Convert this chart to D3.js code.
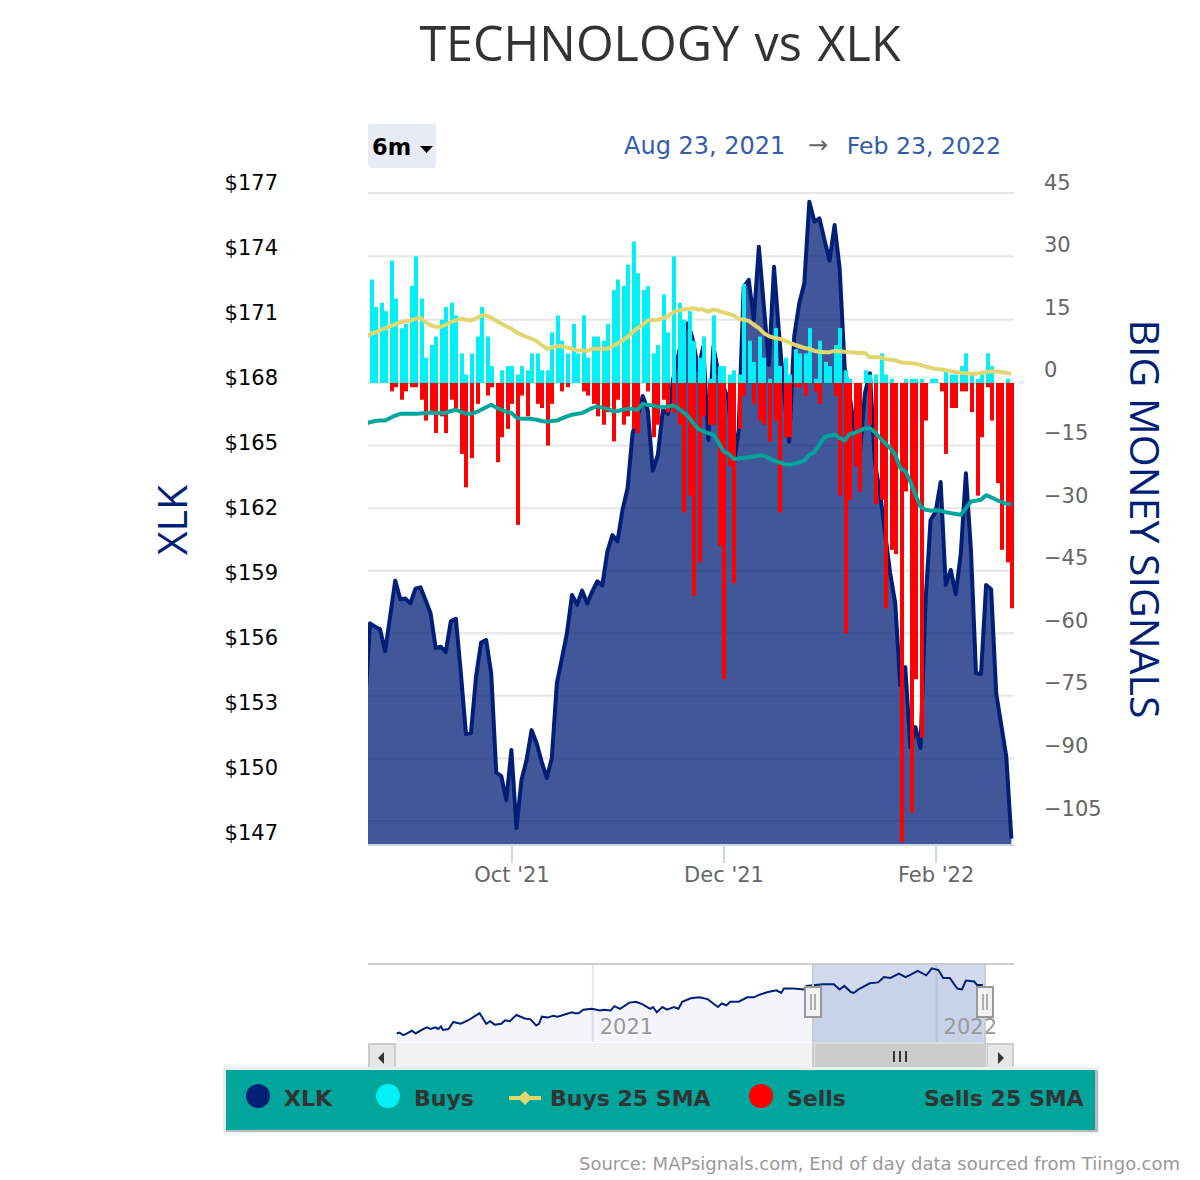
<!DOCTYPE html>
<html>
<head>
<meta charset="utf-8">
<title>TECHNOLOGY vs XLK</title>
<script src="https://cdn.jsdelivr.net/npm/d3@7"></script>
<style>
  body { margin: 0; background: #fff; }
  text { font-family: "DejaVu Sans", sans-serif; }
</style>
</head>
<body>
<div id="chart"></div>
<script>
// first value of the three line series is the day just before the window
const xlk = [153.23,
  157.14,156.98,156.86,155.85,157.48,159.11,158.25,158.28,158.06,158.74,
  158.80,158.22,157.6,156.0,156.06,155.81,157.23,157.35,154.83,152.03,
  152.09,154.68,156.25,156.37,154.83,150.25,150.09,148.98,151.29,147.69,
  149.91,150.83,152.21,151.6,150.75,150.0,150.91,154.37,155.52,156.68,
  158.45,158.0,158.65,158.06,158.6,159.08,158.89,160.45,161.21,160.92,
  162.37,163.37,165.91,166.68,167.63,166.99,164.19,164.91,166.99,166.8,
  168.37,169.45,170.52,170.99,170.14,168.83,169.91,165.6,169.91,168.68,
  168.06,167.45,164.37,166.06,172.68,172.99,171.14,174.52,171.75,169.06,
  173.6,170.5,167.75,165.52,170.37,171.91,172.83,176.6,175.68,175.83,
  174.83,173.88,175.52,173.52,168.91,167.6,166.06,164.98,167.76,168.68,
  164.52,163.14,161.31,159.46,158.08,154.29,155.12,151.43,152.35,151.39,
  158.08,161.91,162.28,163.66,158.91,159.6,158.49,160.38,164.06,160.52,
  154.83,154.8,158.91,158.71,153.91,152.45,150.98,147.2];

const buys = [24.5,18,19,17,29,20,13,14,23,30,20,6,9,11,15,18,19,16,7,2,7,11,18,11,4,0,3,4,4,2,
  4,3,7,7,3,3,12,16,10,7,14,7,16,6,11,11,10,14,22,24.5,23,28,33.5,26,22,23,7,9,21,12,
  30,19,15,17,10,6,11,1,16,4,4,2,3,2,23.5,10,5,11,6,1,13,4,6,2,8,7,7,13,1,10,
  5,4,9,13,3,1,0,0,3,2,2,7,2,1,0,0,1,1,1,1,0,1,1,0,3,2,2,4,7,2,
  1,2,7,4,0,0,1,0];

const sells = [0,0,0,0,2,1,4,2,1,1,4,9,7,12,8,12,4,6,17,25,18,5,0,3,1,19,13,11,5,34,
  3,8,0,5,6,15,5,0,2,1,0,0,2,3,5,8,10,7,14,4,10,8,11,12,0,2,13,10,4,7,
  7,10,31,27,51,43,8,10,10,39,71,20,48,11,3,0,5,9,10,14,9,31,13,13,1,1,3,0,2,5,
  0,0,3,27,60,28,20,26,0,10,29,28,54,40,41,110,26,103,71,85,9,0,0,2,17,6,6,2,2,7,
  27,13,1,9,24,40,43,54];

const buysSma = [10.8,
  11.5,12.0,12.5,13.0,13.4,13.9,14.4,14.6,14.8,15.2,15.4,14.4,13.7,13.3,13.3,13.8,
  14.4,14.9,15.2,15.0,14.8,15.3,16.0,16.0,15.5,14.7,14.1,13.4,12.9,12.0,11.4,10.9,
  10.5,9.9,9.0,8.1,8.5,8.7,8.7,8.4,8.1,7.7,7.7,7.6,8.1,8.1,8.1,8.1,8.7,9.3,
  10.1,10.9,12.0,13.0,13.8,14.8,14.9,15.0,15.3,15.8,16.7,17.2,17.4,17.5,17.7,17.4,
  17.4,16.9,17.4,17.1,16.7,16.4,16.0,15.2,15.0,14.7,13.8,13.0,11.8,11.1,10.7,10.5,
  10.1,9.6,9.1,8.7,8.3,8.1,7.6,7.4,7.3,7.3,7.6,7.5,7.4,7.3,7.2,7.1,7.1,6.1,
  6.1,6.1,5.7,5.5,5.4,4.9,4.8,4.7,4.6,4.3,3.9,3.6,3.3,3.2,3.0,2.8,2.6,2.4,
  2.3,2.2,2.2,2.4,2.6,2.8,2.7,2.6,2.4,2.2];

const sellsSma = [-9.8,
  -9.4,-9.1,-9.0,-9.0,-8.4,-7.8,-7.4,-7.4,-7.4,-7.4,-7.3,-7.2,-7.1,-7.2,-7.2,-7.2,
  -6.7,-6.4,-6.9,-7.4,-7.4,-7.0,-6.4,-5.8,-5.2,-5.9,-6.4,-6.9,-7.2,-8.3,-8.6,-8.6,
  -8.6,-8.8,-9.1,-9.3,-9.1,-9.0,-8.5,-8.0,-7.6,-7.4,-7.2,-6.6,-6.0,-5.6,-5.9,-6.2,
  -6.7,-6.7,-6.4,-6.2,-6.2,-6.4,-5.0,-5.3,-5.4,-5.7,-5.8,-5.6,-5.4,-6.0,-7.0,-8.0,
  -9.6,-11.0,-11.6,-12.0,-12.4,-14.2,-16.4,-17.0,-18.2,-18.1,-17.9,-17.8,-17.6,-17.4,
  -17.4,-18.0,-18.6,-19.0,-19.4,-19.6,-19.4,-19.0,-18.6,-17.2,-16.6,-14.8,-13.0,-12.6,
  -12.4,-13.2,-13.8,-12.2,-12.0,-11.4,-10.9,-10.9,-11.8,-13.2,-14.4,-15.6,-17.2,-20.4,
  -21.2,-23.6,-26.8,-29.6,-30.4,-30.6,-30.5,-30.6,-31.0,-31.2,-31.4,-31.6,-30.0,-28.4,
  -28.2,-28.0,-26.9,-27.4,-28.0,-28.5,-29.0,-29.0];

const priceTicks = [147,150,153,156,159,162,165,168,171,174,177];
const signalTicks = [-105,-90,-75,-60,-45,-30,-15,0,15,30,45];
const monthTicks = [28,70,112];
const monthLabels = ["Oct '21","Dec '21","Feb '22"];

// navigator: days counted from 1 Jan 2021, and the price on that day
const navDays = [-208,-205,-201,-197,-192,-188,-180,-176,-172,-167,-164,-161,-159,-153,-148,-140,-132,-120,-113,-109,
  -104,-97,-93,-88,-81,-72,-66,-60,-57,-54,-48,-42,-37,-28,-22,-19,-15,-10,-1,8,
  12,19,23,29,39,46,53,61,64,68,74,79,86,91,95,104,113,122,128,133,
  137,142,146,155,164,171,177,186,195,200,203,213,224,227,236,244,256,262,267,274,
  277,282,287,294,303,309,316,325,332,336,345,354,360,367,372,379,387,392,396,405,408,414];
const navPrices = [102,103,100,102,105,102,107,109,107,109,107,110,106,107,115,113,117,125,113,116,
  112,113,117,116,123,119,118,111,113,121,120,122,121,124,126,125,125,129,130,128,
  129,128,133,130,137,138,135,130,132,126,132,129,132,130,138,142,143,141,136,132,
  136,134,138,138,143,143,146,149,151,148,153,153,152,156,157,158,158,152,156,149,
  148,152,155,159,160,166,165,170,166,168,173,168,176,174,165,165,153,152,162,161,157,157];
const navYears = [0,365];
const navYearLabels = ["2021","2022"];

const legendItems = ["XLK","Buys","Buys 25 SMA","Sells","Sells 25 SMA"];

const width = 1200, height = 1180;
const plotLeft = 368, plotRight = 1014, plotTop = 193, plotBottom = 845;
const navy = "#011f77", cyan = "#00f0f8", red = "#ff0000", yellow = "#e2d670", teal = "#00a59b";

const svg = d3.select("#chart").append("svg").attr("width", width).attr("height", height);

svg.append("defs").append("clipPath").attr("id", "plot")
  .append("rect").attr("x", plotLeft).attr("y", plotTop - 10).attr("width", plotRight - plotLeft).attr("height", plotBottom - plotTop + 10);

const x = d3.scaleLinear().domain([0, 127]).range([370, 1011.35]);
const yPrice = d3.scaleLinear().domain([147, 177]).range([843, plotTop]);
// the grid in the picture is not quite even around zero, its labels are
const ySignal = d3.scaleLinear().domain([-105, 0, 45]).range([821, 383, plotTop]);
const ySignalLabel = d3.scaleLinear().domain([-105, 45]).range([819, plotTop]);

svg.append("text").attr("x", 660).attr("y", 61).attr("text-anchor", "middle")
  .style("font-family", "'Open Sans'").style("font-size", "48.5px").style("word-spacing", "3px")
  .attr("fill", "#333").text("TECHNOLOGY vs XLK");

// gridlines go under the translucent area
svg.append("g").selectAll("line").data(signalTicks).join("line")
  .attr("x1", plotLeft).attr("x2", plotRight)
  .attr("y1", d => ySignal(d)).attr("y2", d => ySignal(d))
  .attr("stroke", "#e6e6e6").attr("stroke-width", 2);

const plot = svg.append("g").attr("clip-path", "url(#plot)");

// line series carry the extra leading day, hence the i - 1
const area = d3.area().x((d, i) => x(i - 1)).y0(plotBottom).y1(d => yPrice(d));
const priceLine = d3.line().x((d, i) => x(i - 1)).y(d => yPrice(d));
const signalLine = d3.line().x((d, i) => x(i - 1)).y(d => ySignal(d));

plot.append("path").datum(xlk).attr("d", area).attr("fill", navy).attr("fill-opacity", 0.75);
plot.append("path").datum(xlk).attr("d", priceLine).attr("fill", "none")
  .attr("stroke", navy).attr("stroke-width", 4).attr("stroke-linejoin", "round");

const evenLeft = i => 2 * Math.floor(x(i) / 2);

plot.append("g").selectAll("rect").data(buys).join("rect")
  .attr("x", (d, i) => evenLeft(i)).attr("width", 4)
  .attr("y", d => ySignal(d)).attr("height", d => ySignal(0) - ySignal(d))
  .attr("fill", cyan);

plot.append("g").selectAll("rect").data(sells).join("rect")
  .attr("x", (d, i) => evenLeft(i)).attr("width", 4)
  .attr("y", ySignal(0)).attr("height", d => ySignal(-d) - ySignal(0))
  .attr("fill", red);

plot.append("path").datum(buysSma).attr("d", signalLine).attr("fill", "none")
  .attr("stroke", yellow).attr("stroke-width", 4).attr("stroke-linejoin", "round");
plot.append("path").datum(sellsSma).attr("d", signalLine).attr("fill", "none")
  .attr("stroke", teal).attr("stroke-width", 4).attr("stroke-linejoin", "round");

// axes
const axisLeft = svg.append("g").attr("transform", "translate(278,0)")
  .call(d3.axisLeft(yPrice).tickValues(priceTicks).tickSize(0).tickPadding(0).tickFormat(d => "$" + d));
axisLeft.select(".domain").remove();
axisLeft.selectAll("text").attr("dy", "-4px").style("font-size", "21px").attr("fill", "#000");

const axisRight = svg.append("g").attr("transform", "translate(1044,0)")
  .call(d3.axisRight(ySignalLabel).tickValues(signalTicks).tickSize(0).tickPadding(0).tickFormat(d3.format("d")));
axisRight.select(".domain").remove();
axisRight.selectAll("text").attr("dy", "-4px").style("font-size", "21px").attr("fill", "#666");

const axisBottom = svg.append("g").attr("transform", `translate(0,${plotBottom})`)
  .call(d3.axisBottom(x).tickValues(monthTicks).tickSize(18).tickPadding(4).tickFormat((d, i) => monthLabels[i]));
axisBottom.select(".domain").remove();
axisBottom.selectAll("line").attr("stroke", "#ccd6eb").attr("stroke-width", 2);
axisBottom.selectAll("text").style("font-size", "21px").attr("fill", "#666");
svg.append("line").attr("x1", plotLeft).attr("x2", plotRight).attr("y1", plotBottom).attr("y2", plotBottom)
  .attr("stroke", "#ccd6eb").attr("stroke-width", 2);

svg.append("text").attr("transform", "translate(187,520) rotate(-90)").attr("text-anchor", "middle")
  .style("font-family", "'Open Sans'").style("font-size", "41px").attr("fill", navy).text("XLK");
svg.append("text").attr("transform", "translate(1130,519) rotate(90)").attr("text-anchor", "middle")
  .style("font-family", "'Open Sans'").style("font-size", "41px").attr("fill", navy).text("BIG MONEY SIGNALS");

// range selector
svg.append("rect").attr("x", 368).attr("y", 124).attr("width", 68).attr("height", 44).attr("rx", 3).attr("fill", "#e6ebf5");
svg.append("text").attr("x", 372).attr("y", 155).style("font-size", "22.5px").style("font-weight", "bold").attr("fill", "#000").text("6m");
svg.append("path").attr("d", d3.line()([[420, 146], [433, 146], [426.5, 153]])).attr("fill", "#000");
svg.append("text").attr("x", 624).attr("y", 154).style("font-size", "24px").attr("fill", "#335cad").text("Aug 23, 2021");
svg.append("text").attr("x", 818).attr("y", 153).attr("text-anchor", "middle").style("font-size", "24px").attr("fill", "#666").text("→");
svg.append("text").attr("x", 1001).attr("y", 154).attr("text-anchor", "end").style("font-size", "23.6px").attr("fill", "#335cad").text("Feb 23, 2022");

// navigator
const navX = d3.scaleLinear().domain(navYears).range([592.7, 936.6]);
const navY = d3.scaleLinear().domain([100, 176]).range([1035.2, 968.3]);
const navTop = 964, navBottom = 1042;

svg.append("g").selectAll("line").data(navYears).join("line")
  .attr("x1", d => navX(d)).attr("x2", d => navX(d)).attr("y1", navTop).attr("y2", navBottom)
  .attr("stroke", "#e6e6e6").attr("stroke-width", 2);
svg.append("path").datum(navDays)
  .attr("d", d3.area().x(d => navX(d)).y0(navBottom).y1((d, i) => navY(navPrices[i])))
  .attr("fill", "#335cad").attr("fill-opacity", 0.06);
svg.append("rect").attr("x", 813).attr("y", navTop).attr("width", 172).attr("height", navBottom - navTop)
  .attr("fill", "#335cad").attr("fill-opacity", 0.22);
svg.append("g").selectAll("text").data(navYears).join("text")
  .attr("x", d => navX(d) + 7).attr("y", 1034)
  .style("font-size", "21px").attr("fill", "#999").text((d, i) => navYearLabels[i]);
svg.append("path").datum(navDays)
  .attr("d", d3.line().x(d => navX(d)).y((d, i) => navY(navPrices[i])))
  .attr("fill", "none").attr("stroke", navy).attr("stroke-width", 2);
svg.append("line").attr("x1", plotLeft).attr("x2", plotRight).attr("y1", navTop).attr("y2", navTop)
  .attr("stroke", "#ccc").attr("stroke-width", 2);

// scrollbar
svg.append("rect").attr("x", plotLeft).attr("y", 1043).attr("width", plotRight - plotLeft).attr("height", 27).attr("fill", "#f2f2f2");
[368, 986].forEach(bx => {
  svg.append("rect").attr("x", bx + 1).attr("y", 1044).attr("width", 26).attr("height", 26)
    .attr("fill", "#e6e6e6").attr("stroke", "#ccc").attr("stroke-width", 2);
});
svg.append("path").attr("d", d3.line()([[384, 1052], [384, 1064], [378, 1058]])).attr("fill", "#333");
svg.append("path").attr("d", d3.line()([[998, 1052], [998, 1064], [1004, 1058]])).attr("fill", "#333");
svg.append("rect").attr("x", 814).attr("y", 1043).attr("width", 172).attr("height", 27)
  .attr("fill", "#ccc").attr("stroke", "#ddd").attr("stroke-width", 2);
[894, 900, 906].forEach(lx => {
  svg.append("line").attr("x1", lx).attr("x2", lx).attr("y1", 1051).attr("y2", 1062).attr("stroke", "#333").attr("stroke-width", 2);
});
[813, 985].forEach(hx => {
  svg.append("line").attr("x1", hx).attr("x2", hx).attr("y1", navTop).attr("y2", 1070).attr("stroke", "#ccc").attr("stroke-width", 2);
  svg.append("rect").attr("x", hx - 8).attr("y", 987).attr("width", 16).attr("height", 30)
    .attr("fill", "#f2f2f2").attr("stroke", "#999").attr("stroke-width", 2);
  [hx - 2, hx + 2].forEach(lx => {
    svg.append("line").attr("x1", lx).attr("x2", lx).attr("y1", 994).attr("y2", 1010).attr("stroke", "#999").attr("stroke-width", 1.5);
  });
});

// legend
svg.append("rect").attr("x", 223).attr("y", 1067).attr("width", 876).attr("height", 66).attr("fill", "#eee");
svg.append("rect").attr("x", 226).attr("y", 1070).attr("width", 872).attr("height", 62).attr("fill", "#bbb");
svg.append("rect").attr("x", 226).attr("y", 1070).attr("width", 869).attr("height", 60).attr("fill", teal);

const legendX = [284, 414, 550, 787, 924];
const legendColor = [navy, cyan, null, red, null];
const legend = svg.append("g").selectAll("g").data(legendItems).join("g");
legend.append("text").attr("x", (d, i) => legendX[i]).attr("y", 1106)
  .style("font-size", "22px").style("font-weight", "bold").attr("fill", "#333").text(d => d);
legend.filter((d, i) => legendColor[i]).append("circle")
  .attr("cx", d => legendX[legendItems.indexOf(d)] - 26).attr("cy", 1096).attr("r", 12)
  .attr("fill", d => legendColor[legendItems.indexOf(d)]);
svg.append("line").attr("x1", 509).attr("x2", 541).attr("y1", 1098).attr("y2", 1098).attr("stroke", yellow).attr("stroke-width", 4);
svg.append("path").attr("d", d3.symbol(d3.symbolSquare, 100)()).attr("transform", "translate(525,1098) rotate(45)").attr("fill", yellow);

svg.append("text").attr("x", 1180).attr("y", 1170).attr("text-anchor", "end")
  .style("font-size", "18px").attr("fill", "#999")
  .text("Source: MAPsignals.com, End of day data sourced from Tiingo.com");
</script>
</body>
</html>
